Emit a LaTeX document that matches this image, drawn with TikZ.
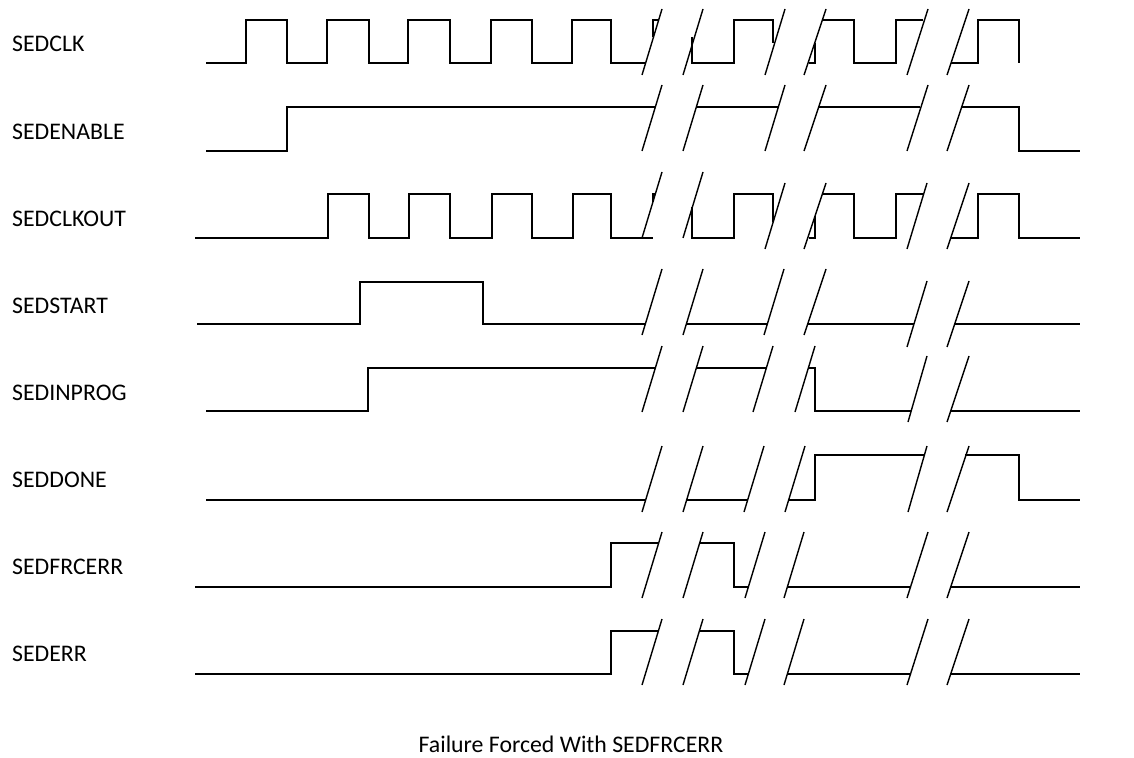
\documentclass[tikz,border=0pt]{standalone}
\usepackage{fontspec}
\setmainfont{Carlito}
\usetikzlibrary{positioning}

% one break mark: bottom x, top x, bottom y (marks are 66 units tall)
\newcommand{\brkmark}[3]{\draw (#1,#3) -- (#2,#3-66);}

\begin{document}
\begin{tikzpicture}[x=1pt,y=-1pt,line width=1.4pt,
    sig/.style={line join=miter},
    lbl/.style={anchor=west,inner sep=0pt,font=\fontsize{23.8}{28}\selectfont}]
  \useasboundingbox (0,0) rectangle (1134,757);

  % Signal names down the left side
  \node[lbl] (clk)     at (11.5,44)  {SEDCLK};
  \node[lbl] (enable)  at (11.5,132) {SEDENABLE};
  \node[lbl] (clkout)  at (11.5,219) {SEDCLKOUT};
  \node[lbl] (start)   at (11.5,306) {SEDSTART};
  \node[lbl] (inprog)  at (11.5,393) {SEDINPROG};
  \node[lbl] (done)    at (11.5,480) {SEDDONE};
  \node[lbl] (frcerr)  at (11.5,567) {SEDFRCERR};
  \node[lbl] (err)     at (11.5,654) {SEDERR};

  % SEDCLK (low 63, high 20)
  \draw[sig] (206,63) -- (246,63) -- (246,20) -- (287,20) -- (287,63) -- (327,63)
    -- (327,20) -- (369,20) -- (369,63) -- (408,63) -- (408,20) -- (450,20)
    -- (450,63) -- (491,63) -- (491,20) -- (532,20) -- (532,63) -- (572,63)
    -- (572,20) -- (611,20) -- (611,63) -- (645,63);
  \draw[sig] (653,37) -- (653,20) -- (658,20);
  \draw[sig] (692,37) -- (692,63) -- (734,63) -- (734,20) -- (773,20) -- (773,43);
  \draw[sig] (809,63) -- (815,63) -- (815,43);
  \draw[sig] (823,20) -- (854,20) -- (854,63) -- (896,63) -- (896,20) -- (923,20);
  \draw[sig] (951,63) -- (978,63) -- (978,20) -- (1019,20) -- (1019,63);
  \brkmark{642}{662}{75} \brkmark{683}{703}{75}
  \brkmark{765}{785}{75} \brkmark{804}{826}{75}
  \brkmark{907}{928}{75} \brkmark{947}{969}{75}

  % SEDENABLE (low 151, high 107)
  \draw[sig] (206,151) -- (287,151) -- (287,107) -- (655,107);
  \draw[sig] (697,107) -- (778,107);
  \draw[sig] (818,107) -- (920,107);
  \draw[sig] (961,107) -- (1019,107) -- (1019,151) -- (1080,151);
  \brkmark{642}{662}{151} \brkmark{683}{703}{151}
  \brkmark{765}{785}{151} \brkmark{804}{826}{151}
  \brkmark{907}{928}{151} \brkmark{947}{969}{151}

  % SEDCLKOUT (low 238, high 194)
  \draw[sig] (195,238) -- (328,238) -- (328,194) -- (369,194) -- (369,238) -- (409,238)
    -- (409,194) -- (450,194) -- (450,238) -- (492,238) -- (492,194) -- (532,194)
    -- (532,238) -- (573,238) -- (573,194) -- (611,194) -- (611,238) -- (653,238);
  \draw[sig] (653,202) -- (653,194) -- (655,194);
  \draw[sig] (692,207) -- (692,238) -- (734,238) -- (734,194) -- (773,194) -- (773,222);
  \draw[sig] (809,238) -- (815,238) -- (815,216);
  \draw[sig] (822,194) -- (854,194) -- (854,238) -- (896,238) -- (896,194) -- (923,194);
  \draw[sig] (951,238) -- (978,238) -- (978,194) -- (1019,194) -- (1019,238) -- (1080,238);
  \brkmark{642}{662}{238} \brkmark{683}{703}{238}
  \brkmark{765}{785}{249} \brkmark{804}{826}{249}
  \brkmark{907}{927}{249} \brkmark{947}{969}{249}

  % SEDSTART (low 324, high 282)
  \draw[sig] (197,324) -- (360,324) -- (360,282) -- (483,282) -- (483,324) -- (645,324);
  \draw[sig] (686,324) -- (767,324);
  \draw[sig] (807,324) -- (914,324);
  \draw[sig] (955,324) -- (1080,324);
  \brkmark{642}{662}{335} \brkmark{683}{703}{335}
  \brkmark{764}{784}{335} \brkmark{804}{826}{335}
  \brkmark{907}{927}{347} \brkmark{947}{969}{347}

  % SEDINPROG (low 411, high 368)
  \draw[sig] (206,411) -- (368,411) -- (368,368) -- (655,368);
  \draw[sig] (697,368) -- (766,368);
  \draw[sig] (808,368) -- (815,368) -- (815,411) -- (911,411);
  \draw[sig] (951,411) -- (1080,411);
  \brkmark{642}{662}{412} \brkmark{683}{703}{412}
  \brkmark{753}{773}{412} \brkmark{795}{815}{412}
  \brkmark{908}{927}{422} \brkmark{947}{969}{422}

  % SEDDONE (low 500, high 455)
  \draw[sig] (206,500) -- (645,500);
  \draw[sig] (687,500) -- (747,500);
  \draw[sig] (788,500) -- (815,500) -- (815,455) -- (924,455);
  \draw[sig] (965,455) -- (1019,455) -- (1019,500) -- (1080,500);
  \brkmark{642}{662}{512} \brkmark{683}{703}{512}
  \brkmark{744}{764}{512} \brkmark{785}{805}{512}
  \brkmark{908}{927}{512} \brkmark{947}{969}{512}

  % SEDFRCERR (low 587, high 543)
  \draw[sig] (195,587) -- (611,587) -- (611,543) -- (659,543);
  \draw[sig] (700,543) -- (734,543) -- (734,587) -- (748,587);
  \draw[sig] (788,587) -- (910,587);
  \draw[sig] (951,587) -- (1080,587);
  \brkmark{642}{662}{598} \brkmark{683}{703}{598}
  \brkmark{745}{765}{598} \brkmark{784}{804}{598}
  \brkmark{907}{928}{598} \brkmark{947}{969}{598}

  % SEDERR (low 674, high 631)
  \draw[sig] (195,674) -- (611,674) -- (611,631) -- (659,631);
  \draw[sig] (700,631) -- (734,631) -- (734,674) -- (748,674);
  \draw[sig] (788,674) -- (910,674);
  \draw[sig] (951,674) -- (1080,674);
  \brkmark{642}{662}{685} \brkmark{683}{703}{685}
  \brkmark{745}{765}{685} \brkmark{784}{804}{685}
  \brkmark{907}{928}{685} \brkmark{947}{969}{685}

  % Caption
  \node[lbl,anchor=center] (caption) at (571,744) {Failure Forced With SEDFRCERR};
\end{tikzpicture}
\end{document}
